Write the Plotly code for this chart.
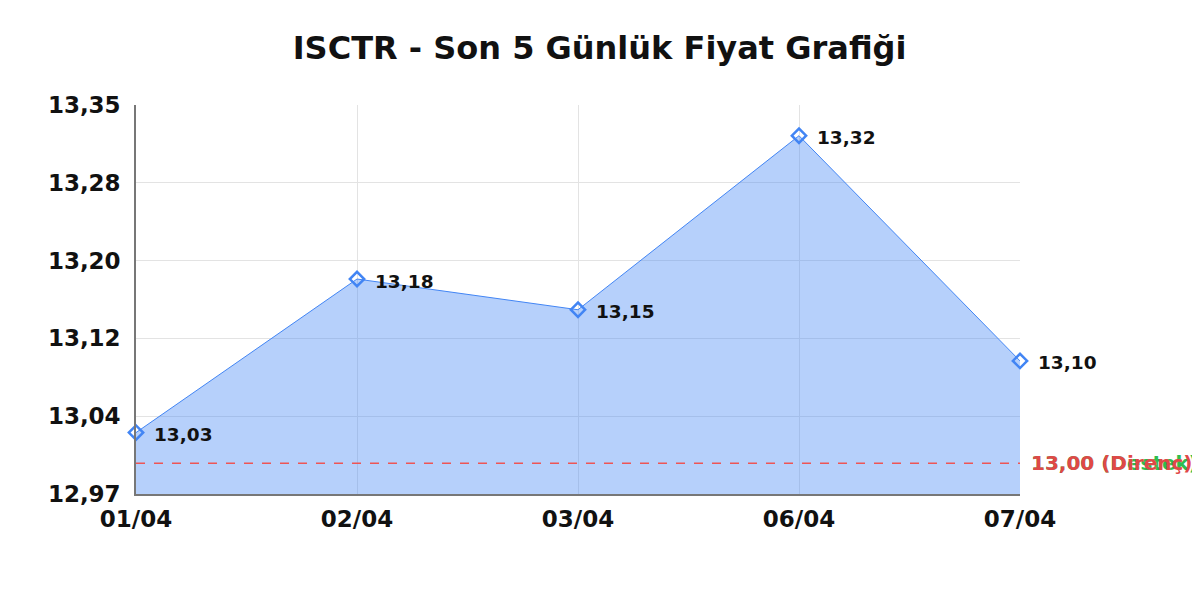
import plotly.graph_objects as go

# veriler
dates = ['01/04', '02/04', '03/04', '06/04', '07/04']
prices = [13.03, 13.18, 13.15, 13.32, 13.10]
price_labels = ['13,03', '13,18', '13,15', '13,32', '13,10']
support = 13.00
support_labels = ['13,00 (Destek)', '13,00 (Direnç)']
y_tick_vals = [12.97, 13.046, 13.122, 13.198, 13.274, 13.35]
y_tick_text = ['12,97', '13,04', '13,12', '13,20', '13,28', '13,35']

FONT = 'DejaVu Sans'
BLUE = '#4285f4'

fig = go.Figure()

# fiyat alanı
fig.add_trace(go.Scatter(
    x=dates, y=prices,
    mode='lines+markers',
    fill='tozeroy',
    fillcolor='rgba(66,133,244,0.39)',
    line=dict(color=BLUE, width=1),
    marker=dict(symbol='diamond-open', size=11, color=BLUE, line=dict(width=2.5)),
    cliponaxis=False,
    showlegend=False,
))

# nokta etiketleri
for d, p, lbl in zip(dates, prices, price_labels):
    fig.add_annotation(x=d, y=p, text=lbl, showarrow=False,
                       xanchor='left', xshift=16, yshift=-2,
                       font=dict(family=FONT, size=18.5, color='#111111', weight='bold'))

# destek / direnç çizgisi
fig.add_shape(type='line', xref='x', yref='y', x0=0, x1=len(dates) - 1,
              y0=support, y1=support,
              line=dict(color='#ee5555', width=1.5, dash='dash'))

for lbl, col in zip(support_labels, ['#2ebd4e', '#e04848']):
    fig.add_annotation(x=1, xref='paper', y=support, yref='y',
                       text=lbl, showarrow=False, xanchor='left', xshift=9,
                       font=dict(family=FONT, size=20, color=col, weight='bold'))

fig.update_layout(
    width=1200, height=600,
    title=dict(text='ISCTR - Son 5 Günlük Fiyat Grafiği', x=0.493, xanchor='center',
               y=0.934, yanchor='middle',
               font=dict(family=FONT, size=32, color='#111111', weight='bold')),
    margin=dict(l=128, r=188, t=97, b=114),
    plot_bgcolor='white', paper_bgcolor='white',
)

fig.update_xaxes(
    type='category', range=[0, len(dates) - 1],
    showgrid=True, gridcolor='#e3e3e3', gridwidth=1,
    showline=True, linecolor='#777777', linewidth=1.5,
    ticks='', ticklabelstandoff=4,
    tickfont=dict(family=FONT, size=23, color='#111111', weight='bold'),
)
fig.update_yaxes(
    range=[12.97, 13.35],
    tickvals=y_tick_vals, ticktext=y_tick_text,
    showgrid=True, gridcolor='#e3e3e3', gridwidth=1,
    showline=True, linecolor='#777777', linewidth=1.5,
    zeroline=False, ticks='', ticklabelstandoff=9,
    tickfont=dict(family=FONT, size=23, color='#111111', weight='bold'),
)

fig.write_html('out.html')
